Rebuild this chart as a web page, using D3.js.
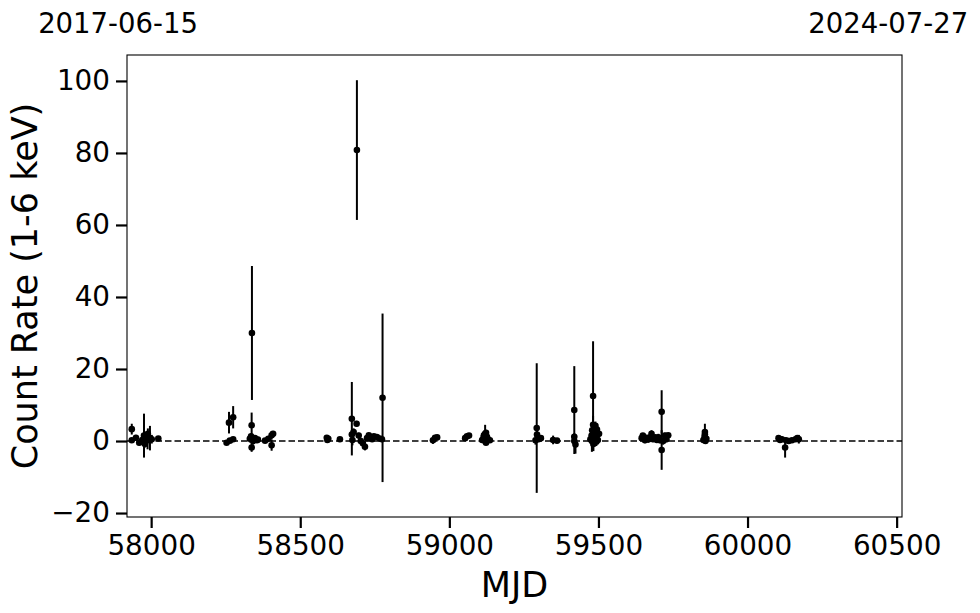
<!DOCTYPE html>
<html><head><meta charset="utf-8">
<script src="https://cdn.jsdelivr.net/npm/d3@7"></script>
<style>body{margin:0;background:#fff}svg{display:block}text{font-family:"DejaVu Sans",sans-serif;fill:#000}</style>
</head><body><div id="chart"></div>
<script>
const mjd = [57935,57935,57949,57960,57970,57976,57983,57988,57989,57996,58002,57979,58024,
58253,58264,58275,58261,58275,
58331,58335,58337,58338,58337,58342,58348,58355,58358,58382,58393,58404,58404,58409,
58589,58591,58594,58633,
58673,58673,58675,58679,58689,58690,58696,58703,58710,58717,58724,58730,58741,58747,58757,58767,58776,58774,
58945,58952,58959,
59053,59059,59066,
59110,59115,59120,59120,59123,59126,59130,59136,59116,59123,
59289,59293,59294,59299,59307,59348,59361,
59419,59419,59419,59423,
59473,59477,59479,59482,59482,59483,59487,59488,59490,59492,59493,59495,59497,59498,59502,59478,
59645,59649,59656,59661,59667,59673,59678,59683,59690,59696,59701,59706,59712,59712,59717,59723,59728,59734,
59852,59856,59857,59859,59862,59857,
60104,60109,60115,60126,60129,60138,60149,60161,60167,60172];
const rate = [3.3,0.2,0.9,-0.5,0.3,1.5,0.7,0.2,2.0,0.8,0.5,-0.8,0.7,
-0.5,0.1,0.5,5.1,6.6,
0.6,1.3,4.4,30.0,-1.8,0.0,0.8,0.2,0.4,0.1,0.6,1.6,-1.2,2.0,
0.9,0.3,0.6,0.5,
6.2,1.8,0.3,2.5,4.8,80.8,1.5,0.0,-0.6,-1.6,0.8,1.6,0.5,1.3,1.1,0.7,12.0,0.5,
0.2,0.9,1.0,
0.8,1.3,1.5,
0.3,1.0,2.0,0.0,-0.5,1.2,0.5,0.2,1.6,2.3,
0.2,3.6,1.8,0.5,0.8,0.3,0.1,
8.6,1.2,0.0,-1.0,
0.5,1.5,3.0,12.5,4.5,-0.8,0.8,2.5,4.2,1.0,-0.2,3.2,1.8,0.3,2.0,0.0,
0.8,1.5,0.2,0.9,0.4,1.0,2.0,0.5,1.0,0.3,1.0,0.2,8.1,-2.5,0.0,1.5,0.5,1.6,
0.3,1.2,2.5,0.0,0.6,1.8,
0.8,0.3,0.5,-1.8,0.2,0.0,0.2,0.5,0.8,0.5];
const err = [1.5,0.6,0.8,0.7,0.9,6.1,1.0,2.5,1.5,3.4,1.2,1.0,0.5,
0.5,0.5,0.6,3.0,3.1,
1.0,0.8,3.5,18.6,1.2,1.0,0.6,0.5,0.8,0.5,0.6,1.2,1.5,0.8,
0.7,0.6,0.5,0.6,
10.2,1.0,1.5,1.0,0.8,19.4,0.8,0.8,0.7,1.0,0.6,0.6,0.6,0.5,0.6,0.5,23.4,0.8,
1.0,0.6,0.6,
0.5,0.5,0.5,
0.7,0.8,2.5,1.0,0.6,0.7,0.6,0.5,0.6,0.8,
1.2,18.0,1.0,0.7,0.6,1.2,0.6,
12.2,1.0,0.8,2.5,
1.0,1.2,2.0,15.2,2.5,2.0,1.0,1.5,1.2,0.8,1.2,1.5,1.0,0.8,1.0,3.0,
0.8,0.7,0.8,0.6,0.6,0.6,1.0,0.8,0.7,0.6,1.0,0.8,6.0,5.5,1.0,0.8,0.8,0.6,
0.8,1.0,2.3,0.8,0.7,0.8,
0.7,0.6,0.8,2.8,0.6,0.6,0.5,0.6,0.7,1.2];
const xTicks = [58000,58500,59000,59500,60000,60500];
const yTicks = [-20,0,20,40,60,80,100];
const topLabelPos = [57889,60472];
const topLabels = ["2017-06-15","2024-07-27"];
const xDomain = [57919,60518];
const yDomain = [-21.1,107.2];

const W=980,H=613, L=127,R=902,T=55,B=517;
const svg=d3.select("#chart").append("svg").attr("width",W).attr("height",H);
const x=d3.scaleLinear().domain(xDomain).range([L,R]);
const y=d3.scaleLinear().domain(yDomain).range([B,T]);

svg.append("line").attr("x1",L).attr("x2",R).attr("y1",y(0)).attr("y2",y(0))
  .attr("stroke","#000").attr("stroke-width",1.6).attr("stroke-dasharray","6.5,3");

const data=mjd.map((m,i)=>({m,r:rate[i],e:err[i]}));
const g=svg.append("g");
g.selectAll("line.eb").data(data).join("line").attr("class","eb")
  .attr("x1",d=>x(d.m)).attr("x2",d=>x(d.m))
  .attr("y1",d=>y(d.r-d.e)).attr("y2",d=>y(d.r+d.e))
  .attr("stroke","#000").attr("stroke-width",2);
g.selectAll("circle").data(data).join("circle")
  .attr("cx",d=>x(d.m)).attr("cy",d=>y(d.r)).attr("r",3.3).attr("fill","#000");

svg.append("rect").attr("x",L).attr("y",T).attr("width",R-L).attr("height",B-T)
  .attr("fill","none").attr("stroke","#000").attr("stroke-width",1.1);

const xa=svg.append("g").attr("transform",`translate(0,${B})`)
  .call(d3.axisBottom(x).tickValues(xTicks).tickFormat(d3.format("d")).tickSize(11).tickPadding(7));
const ya=svg.append("g").attr("transform",`translate(${L},0)`)
  .call(d3.axisLeft(y).tickValues(yTicks).tickFormat(d=>d<0?"\u2212"+Math.abs(d):d).tickSize(11).tickPadding(6));
[xa,ya].forEach(a=>{a.select(".domain").remove();
  a.selectAll(".tick line").attr("stroke","#000").attr("stroke-width",2.2);
  a.selectAll(".tick text").attr("font-size",27.8).attr("font-family","DejaVu Sans").attr("fill","#000");});

svg.selectAll("text.top").data(topLabels).join("text").attr("class","top")
  .attr("x",(d,i)=>x(topLabelPos[i])).attr("y",33).attr("text-anchor","middle")
  .attr("font-size",27.5).text(d=>d);

svg.append("text").attr("x",(L+R)/2).attr("y",597).attr("text-anchor","middle")
  .attr("font-size",35).text("MJD");
svg.append("text").attr("transform",`translate(37,${(T+B)/2}) rotate(-90)`)
  .attr("text-anchor","middle").attr("font-size",35).text("Count Rate (1-6 keV)");
</script></body></html>
